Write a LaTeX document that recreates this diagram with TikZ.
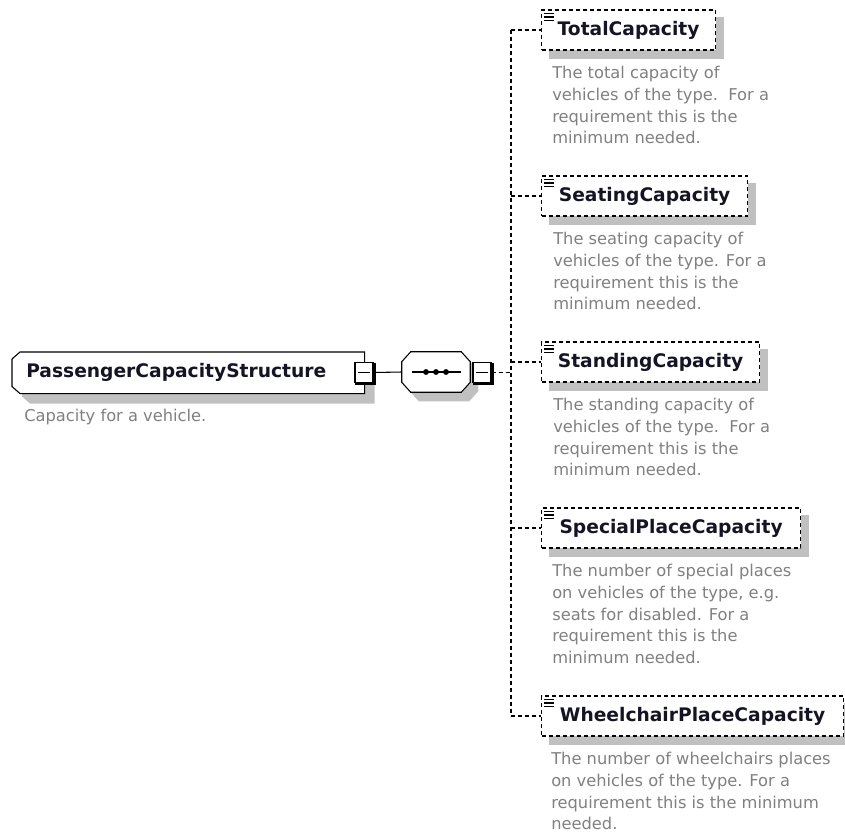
\documentclass[tikz,border=0pt]{standalone}
\usepackage{fontspec}
\setmainfont{DejaVu Sans}
\usetikzlibrary{calc,backgrounds}
\definecolor{shadowgray}{RGB}{192,192,192}
\definecolor{descgray}{RGB}{128,128,128}
\definecolor{titleink}{RGB}{20,20,36}
\tikzset{
  dashedline/.style={line width=0.9pt, dash pattern=on 3pt off 2.25pt},
  solidline/.style={line width=0.8pt},
  titlefont/.style={font=\fontsize{14}{16}\selectfont\bfseries, text=titleink},
  elembox/.style={draw, dashedline, fill=white, anchor=west, inner sep=0pt,
    minimum height=30pt, titlefont},
  desctext/.style={anchor=north west, align=left, inner sep=0pt, text=descgray,
    font=\fontsize{12.2}{16.3}\selectfont},
  minusbox/.style={draw, solidline, fill=white, minimum width=13.5pt,
    minimum height=14.5pt, inner sep=0pt},
  heavyedge/.style={line width=1.6pt},
  shadowfill/.style={fill=shadowgray},
}
% small "documentation" mark in the upper left corner of an element box
\newcommand\elemicon[1]{%
  \foreach \k in {0,1,2}
    \draw[line width=0.9pt] ($(#1.north west)+(3,4+3.5*\k)$) -- ++(10,0);}
% collapse button: heavy right/bottom edge and a minus sign
\newcommand\minusmark[1]{%
  \draw[heavyedge] ($(#1.north east)+(1,1)$) -- ($(#1.south east)+(1,1)$) -- ($(#1.south west)+(1,1)$);
  \draw[solidline] ($(#1.center)+(-6,0)$) -- ($(#1.center)+(6,0)$);}
\begin{document}
\begin{tikzpicture}[x=0.75pt,y=-0.75pt]
\useasboundingbox (0,0) rectangle (845,836);

% ---- complex type ----
\node[anchor=north west, inner xsep=10.5pt, inner ysep=0pt, text width=243pt,
      minimum height=30.75pt, align=left, titlefont] (pcs) at (12,352)
      {PassengerCapacityStructure};
\node[desctext] (pcsd) at (24,409) {Capacity for a vehicle.};
\node[minusbox] (pcsx) at (364,372.5) {};
\minusmark{pcsx}

% ---- sequence compositor ----
\node[minimum width=51pt, minimum height=30pt, inner sep=0pt] (seq) at (436,372) {};
\node[minusbox] (seqx) at (482,372.5) {};
\minusmark{seqx}

% ---- child elements ----
\node[elembox, minimum width=130.5pt]  (tc)  at (541,30)  {TotalCapacity};
\node[elembox, minimum width=154.5pt]  (sc)  at (541,196) {SeatingCapacity};
\node[elembox, minimum width=163.5pt]  (stc) at (541,362) {StandingCapacity};
\node[elembox, minimum width=194.25pt] (spc) at (541,528) {SpecialPlaceCapacity};
\node[elembox, minimum width=226.5pt]  (wpc) at (541,716) {WheelchairPlaceCapacity};
\foreach \n in {tc,sc,stc,spc,wpc} {\elemicon{\n}}

\node[desctext] (tcd) at (552,66)
  {The total capacity of\\vehicles of the type.\ \ For a\\requirement this is the\\minimum needed.};
\node[desctext] (scd) at (553,232)
  {The seating capacity of\\vehicles of the type. For a\\requirement this is the\\minimum needed.};
\node[desctext] (stcd) at (553,398)
  {The standing capacity of\\vehicles of the type.\ \ For a\\requirement this is the\\minimum needed.};
\node[desctext] (spcd) at (552,564)
  {The number of special places\\on vehicles of the type, e.g.\\seats for disabled. For a\\requirement this is the\\minimum needed.};
\node[desctext] (wpcd) at (551,752)
  {The number of wheelchairs places\\on vehicles of the type. For a\\requirement this is the minimum\\needed.};

% ---- outlines and shadows behind the texts ----
\begin{scope}[on background layer]
  \clip (0,0) rectangle (845,836);
  % complex type: left corners cut
  \fill[shadowfill] ($(pcs.north west)+(18,10)$) -- ($(pcs.north east)+(10,10)$)
    -- ($(pcs.south east)+(10,10)$) -- ($(pcs.south west)+(18,10)$)
    -- ($(pcs.south west)+(10,3)$) -- ($(pcs.north west)+(10,17)$) -- cycle;
  \draw[solidline, fill=white] ($(pcs.north west)+(8,0)$) -- (pcs.north east)
    -- (pcs.south east) -- ($(pcs.south west)+(8,0)$)
    -- ($(pcs.south west)+(0,-7)$) -- ($(pcs.north west)+(0,7)$) -- cycle;
  % sequence: octagon
  \fill[shadowfill] ($(seq.north west)+(17,9)$) -- ($(seq.north east)+(-1,9)$)
    -- ($(seq.north east)+(8,19)$) -- ($(seq.south east)+(8,-1)$)
    -- ($(seq.south east)+(-1,9)$) -- ($(seq.south west)+(17,9)$)
    -- ($(seq.south west)+(8,-1)$) -- ($(seq.north west)+(8,19)$) -- cycle;
  \draw[solidline, fill=white] ($(seq.north west)+(9,0)$) -- ($(seq.north east)+(-9,0)$)
    -- ($(seq.north east)+(0,10)$) -- ($(seq.south east)+(0,-10)$)
    -- ($(seq.south east)+(-9,0)$) -- ($(seq.south west)+(9,0)$)
    -- ($(seq.south west)+(0,-10)$) -- ($(seq.north west)+(0,10)$) -- cycle;
  % element shadows
  \foreach \n in {tc,sc,stc,spc,wpc}
    \fill[shadowfill] ($(\n.north west)+(8,8)$) rectangle ($(\n.south east)+(8,8)$);
\end{scope}

% sequence symbol
\draw[solidline] ($(seq.center)+(-24.5,0)$) -- ($(seq.center)+(24.5,0)$);
\foreach \d in {-10,0,10}
  \fill ($(seq.center)+(\d,0)$) circle[radius=2.2pt];

% ---- connectors ----
\coordinate (spine) at (511,372.5);
\draw[solidline] (pcsx.east) -- (seq.west);
\draw[dashedline] (seqx.east) -- (spine);
\draw[dashedline] (spine |- tc.west) -- (spine |- wpc.west);
\foreach \n in {tc,sc,stc,spc,wpc}
  \draw[dashedline] (spine |- \n.west) -- (\n.west);
\end{tikzpicture}
\end{document}
